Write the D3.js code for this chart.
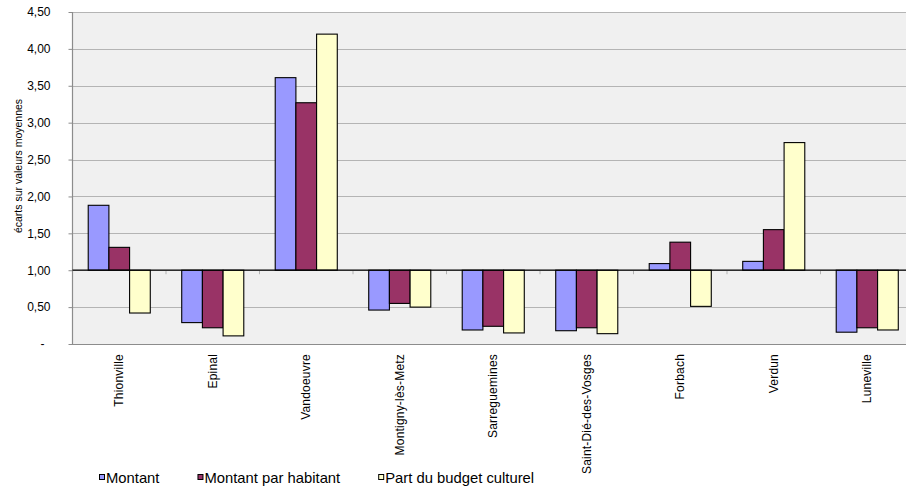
<!DOCTYPE html>
<html lang="fr">
<head>
  <meta charset="UTF-8" />
  <title>Écarts sur valeurs moyennes</title>
  <script src="https://d3js.org/d3.v7.min.js"></script>
  <style>
    body {
      margin: 0;
      background: white;
      font-family: Arial, "Liberation Sans", sans-serif;
    }
    svg { display: block; background: white; }
    .tick-label { font-size: 12px; fill: #000; }
    .cat-label { font-size: 12px; fill: #000; letter-spacing: 0.2px; }
    .y-title { font-size: 10.5px; fill: #000; }
    .legend-label { font-size: 14.8px; fill: #000; }
  </style>
</head>
<body>
  <svg width="906" height="490"></svg>

  <script>
    // chart values
    const categories = ["Thionville", "Epinal", "Vandoeuvre", "Montigny-lès-Metz", "Sarreguemines",
                        "Saint-Dié-des-Vosges", "Forbach", "Verdun", "Luneville"];
    const montant =         [1.88, 0.29, 3.61, 0.46, 0.19, 0.18, 1.09, 1.12, 0.16];
    const montantHabitant = [1.31, 0.22, 3.27, 0.55, 0.24, 0.22, 1.38, 1.55, 0.22];
    const partBudget =      [0.42, 0.11, 4.20, 0.50, 0.15, 0.14, 0.51, 2.73, 0.19];
    const seriesNames = ["Montant", "Montant par habitant", "Part du budget culturel"];
    const yTicks = [0, 0.5, 1, 1.5, 2, 2.5, 3, 3.5, 4, 4.5];
    const baseValue = 1;

    const colors = ["#9999ff", "#993366", "#ffffcc"];
    const seriesValues = [montant, montantHabitant, partBudget];

    const svg = d3.select("svg");
    const plot = { left: 72.5, right: 914, top: 12, bottom: 344 };

    const x0 = d3.scaleBand()
      .domain(categories)
      .range([plot.left, plot.right])
      .padding(0);

    const x1 = d3.scaleBand()
      .domain(seriesNames)
      .range([0, x0.bandwidth()])
      .paddingInner(0)
      .paddingOuter(0.76);

    const y = d3.scaleLinear()
      .domain([0, 4.5])
      .range([plot.bottom, plot.top]);

    // plot background
    svg.append("rect")
      .attr("x", plot.left)
      .attr("y", plot.top)
      .attr("width", plot.right - plot.left)
      .attr("height", plot.bottom - plot.top)
      .attr("fill", "#f0f0f0");

    // gridlines
    svg.append("g")
      .selectAll("line")
      .data(yTicks.filter(d => d > 0))
      .join("line")
      .attr("x1", plot.left)
      .attr("x2", plot.right)
      .attr("y1", d => Math.round(y(d)) + 0.5)
      .attr("y2", d => Math.round(y(d)) + 0.5)
      .attr("stroke", "#b4b4b4")
      .attr("stroke-width", 1);

    // plot frame (left + bottom)
    svg.append("path")
      .attr("d", `M${plot.left},${plot.top}V${plot.bottom + 0.5}H${plot.right}`)
      .attr("fill", "none")
      .attr("stroke", "#8c8c8c")
      .attr("stroke-width", 1.2);

    // y axis
    const yAxis = svg.append("g")
      .attr("transform", `translate(${plot.left},0)`)
      .call(d3.axisLeft(y)
        .tickValues(yTicks)
        .tickSize(4)
        .tickFormat(d => d === 0 ? "-" : d3.format(".2f")(d).replace(".", ",")));
    yAxis.select(".domain").remove();
    yAxis.selectAll(".tick line").attr("stroke", "#8c8c8c");
    yAxis.selectAll(".tick text")
      .attr("class", "tick-label")
      .attr("x", d => d === 0 ? -28 : -22)
      .style("font-family", "Arial, 'Liberation Sans', sans-serif")
      .style("font-size", "12px");

    // y title
    svg.append("text")
      .attr("class", "y-title")
      .attr("transform", "translate(22,166) rotate(-90)")
      .attr("text-anchor", "middle")
      .text("écarts sur valeurs moyennes");

    // bars, drawn from the 1,00 baseline
    const groups = svg.append("g")
      .selectAll("g")
      .data(categories)
      .join("g")
      .attr("transform", d => `translate(${x0(d)},0)`);

    groups.selectAll("rect")
      .data((c, i) => seriesNames.map((s, k) => ({ s, k, v: seriesValues[k][i] })))
      .join("rect")
      .attr("x", d => x1(d.s))
      .attr("width", x1.bandwidth())
      .attr("y", d => Math.min(y(d.v), y(baseValue)))
      .attr("height", d => Math.abs(y(d.v) - y(baseValue)))
      .attr("fill", d => colors[d.k])
      .attr("stroke", "#000")
      .attr("stroke-width", 1.1);

    // category axis crossing at 1,00
    const xAxis = svg.append("g")
      .attr("transform", `translate(0,${y(baseValue)})`);
    xAxis.selectAll("line.sep")
      .data(categories.slice(1))
      .join("line")
      .attr("class", "sep")
      .attr("x1", d => x0(d))
      .attr("x2", d => x0(d))
      .attr("y1", 0)
      .attr("y2", 4)
      .attr("stroke", "#b4b4b4");
    xAxis.append("line")
      .attr("x1", plot.left)
      .attr("x2", plot.right)
      .attr("stroke", "#000")
      .attr("stroke-width", 1.2);

    // category labels, rotated under the plot
    svg.append("g")
      .selectAll("text")
      .data(categories)
      .join("text")
      .attr("class", "cat-label")
      .attr("transform", d => `translate(${x0(d) + x0.bandwidth() / 2 + 4},354) rotate(-90)`)
      .attr("text-anchor", "end")
      .text(d => d);

    // legend
    const legend = svg.append("g");
    let lx = 99;
    seriesNames.forEach((name, k) => {
      legend.append("rect")
        .attr("x", lx + 0.5)
        .attr("y", 474.5)
        .attr("width", 5)
        .attr("height", 5)
        .attr("fill", colors[k])
        .attr("stroke", "#000");
      const t = legend.append("text")
        .attr("class", "legend-label")
        .attr("x", lx + 7)
        .attr("y", 483)
        .text(name);
      lx += 7 + t.node().getComputedTextLength() + 38;
    });
  </script>
</body>
</html>
